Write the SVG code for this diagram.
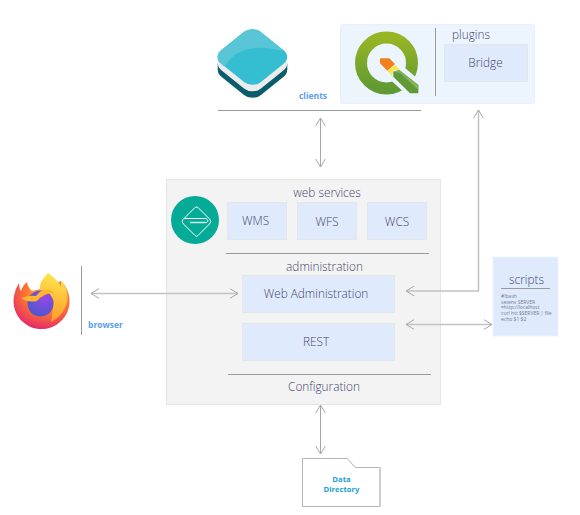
<svg xmlns="http://www.w3.org/2000/svg" width="580" height="515" viewBox="0 0 580 515">
<defs>
<style>
text{font-family:"Open Sans","Noto Sans",sans-serif;fill:#474570}
.t{font-size:11.8px;text-anchor:middle;font-weight:300}
.b{fill:#dfeafc;stroke:#e4e7ea;stroke-width:1}
.l{stroke:#9a9a9a;stroke-width:1;fill:none}
.tag{font-size:8.5px;font-weight:700;fill:#5aa0ea}
.c{stroke:#c2c2c2;stroke-width:1.5;fill:none;marker-start:url(#a);marker-end:url(#a)}
.n{stroke:#a6a6a6;stroke-width:1}
.s{font-size:5px;fill:#6f7c94}
.dd{font-size:7.7px;font-weight:700;fill:#1ba1d8;text-anchor:middle}
</style>
<marker id="a" viewBox="0 0 10 12" refX="9.500" refY="6" markerWidth="10" markerHeight="12" markerUnits="userSpaceOnUse" orient="auto-start-reverse"><path d="M1.500 1.200L9.500 6L1.500 10.800" fill="none" stroke="#a8a8a8" stroke-width="1"/></marker>
<marker id="h" viewBox="0 0 10 12" refX="9.500" refY="6" markerWidth="10" markerHeight="12" markerUnits="userSpaceOnUse" orient="auto"><path d="M1.500 1.200L9.500 6L1.500 10.800" fill="none" stroke="#a8a8a8" stroke-width="1"/></marker>
<linearGradient id="q" x1="0" y1="0" x2="0" y2="1"><stop offset="0" stop-color="#98b524"/><stop offset="1" stop-color="#5f9a33"/></linearGradient>
<radialGradient id="ff" cx="0.62" cy="0.25" r="0.85"><stop offset="0" stop-color="#ffc93a"/><stop offset="0.45" stop-color="#ff7a2a"/><stop offset="1" stop-color="#e0187a"/></radialGradient>
<linearGradient id="gl" x1="0.7" y1="0" x2="0.6" y2="1"><stop offset="0" stop-color="#ffe94d"/><stop offset="1" stop-color="#ff9a2a"/></linearGradient>
<radialGradient id="gb" cx="0.65" cy="0.25" r="0.9"><stop offset="0" stop-color="#9a45e8"/><stop offset="1" stop-color="#3d5cc8"/></radialGradient>
<rect id="dia" x="-28" y="-28" width="56" height="56" rx="12" transform="scale(1 .8) rotate(45)"/>
<clipPath id="topclip"><use href="#dia" transform="translate(252 57)"/></clipPath>
</defs>

<g id="services">
<rect x="166.500" y="179.500" width="274" height="225" fill="#f3f3f3" stroke="#e6e6e6"/>
<circle cx="195" cy="220" r="24" fill="#06ab97"/>
<path d="M195 207.500Q196.500 206.500 198 207.500L209.500 219Q212 221.500 209.500 224L198 235.500Q196.500 237 195 235.500L184 224.500Q180.500 221 184 218.500H206Q209.500 221 206.500 222.500H190" fill="none" stroke="#fff" stroke-width="1"/>
<path d="M184 218.500L195 207.500" fill="none" stroke="#fff" stroke-width="1"/>
<path d="M190 222.500H205" fill="none" stroke="#c9f0e9" stroke-width="1.500"/>
<text class="t" x="327" y="196.500">web services</text>
<g id="wms"><rect class="b" x="227.500" y="202.500" width="59" height="37"/><text class="t" x="255.500" y="225">WMS</text></g>
<g id="wfs"><rect class="b" x="297.500" y="202.500" width="59" height="37"/><text class="t" x="327" y="225.500">WFS</text></g>
<g id="wcs"><rect class="b" x="367.500" y="202.500" width="59" height="37"/><text class="t" x="397" y="225.500">WCS</text></g>
<path class="l" d="M226 253.500H429"/>
<text class="t" x="324.500" y="271">administration</text>
<g id="webadmin"><rect class="b" x="242.500" y="275.500" width="152" height="37"/><text class="t" x="316" y="298">Web Administration</text></g>
<g id="rest"><rect class="b" x="242.500" y="323.500" width="152" height="37"/><text class="t" x="316" y="346">REST</text></g>
<path class="l" d="M228 374.500H431"/>
<text class="t" x="324" y="391">Configuration</text>
</g>

<g id="clients">
<use href="#dia" transform="translate(252.500 70)" fill="#0a5e6c"/>
<rect x="217.700" y="63.500" width="69.600" height="6.500" fill="#0a5e6c"/>
<use href="#dia" transform="translate(252.500 63.500)" fill="#ececec"/>
<rect x="217.700" y="57" width="69.600" height="6.500" fill="#ececec"/>
<use href="#dia" transform="translate(252.500 57)" fill="#35bdd2"/>
<path clip-path="url(#topclip)" d="M212 22H292V54Q265 44 245 50Q232 54 224 67L212 60Z" fill="#59c6d7"/>
<text class="tag" x="299" y="99">clients</text>
<path class="l" d="M218 110.500H421"/>
</g>

<g id="plugins">
<rect x="340.500" y="24.500" width="194" height="79" rx="2" fill="#ecf4fe" stroke="#e6f0fb"/>
<circle cx="386.500" cy="63" r="25.500" fill="none" stroke="url(#q)" stroke-width="12"/>
<path d="M382 72L398 62L424 84V98H410Z" fill="#ecf4fe"/>
<path d="M393.300 71.700L399.300 70L418.300 85V93.300H410L393.300 76.700Z" fill="#5f9a36"/>
<path d="M393.300 71.700L399.300 70L418.300 85V90L400 73Z" fill="#83b25a"/>
<path d="M387.300 70.700L395 65L400 69.500L393 70.500L392 76Z" fill="#f7e64c"/>
<path d="M380 58.300H389.300L395 64L387.300 70.700L380 63.300Z" fill="#f3801f"/>
<path class="l" d="M435.500 28V96"/>
<text class="t" x="471" y="39">plugins</text>
<g id="bridge"><rect class="b" x="444.500" y="44.500" width="83" height="37"/><text class="t" x="485.500" y="66.500">Bridge</text></g>
</g>

<g id="browser">
<path d="M14 296Q15 289 19 283Q19 288 21 291Q23 285 27 282Q28 288 32 291L44 288L61 281A28 28 0 1 1 14 296Z" fill="url(#ff)"/>
<path d="M48 273Q38 283 40 290L54 300L51 322Q66 314 67.500 298Q67.500 288 61 281L61 287Q57 279 48 273Z" fill="url(#gl)"/>
<circle cx="40.500" cy="303.500" r="13" fill="url(#gb)"/>
<path d="M21 298Q30 295 36 296Q42 288 50 290Q53 291 54 293Q44 293 37 301Q28 303 21 298Z" fill="#ffb52e"/>
<path class="l" d="M81.500 266V335"/>
<text class="tag" x="88" y="328">browser</text>
</g>

<g id="scripts">
<rect x="493" y="257" width="65" height="79" fill="#dfeafc" stroke="#eef3fb"/>
<text class="t" x="526.500" y="284">scripts</text>
<path class="l" d="M501 288.500H550"/>
<text class="s" x="501" y="298">#!bash</text>
<text class="s" x="501" y="303.500">setenv SERVER</text>
<text class="s" x="501" y="309">=http://localhost</text>
<text class="s" x="501" y="315">curl htt $SERVER | file</text>
<text class="s" x="501" y="321">echo $1 $2</text>
</g>

<g id="data">
<path d="M302.500 458.500H347.500L355 467.500H380V506.500H302.500Z" fill="#fff" stroke="#b5b5b5"/>
<path d="M380 467.500V506.500" stroke="#cfcfcf" stroke-width="2" fill="none"/>
<text class="dd" x="341.500" y="481.500">Data</text>
<text class="dd" x="341.500" y="492">Directory</text>
</g>

<g id="connectors">
<path class="c n" d="M320.500 118V167"/>
<path class="c" d="M406 291H478.500V110"/>
<path class="c" d="M91 293.500H238"/>
<path class="c" d="M406 324.500H492"/>
<path class="c n" d="M320.500 405V454"/>
</g>
</svg>
